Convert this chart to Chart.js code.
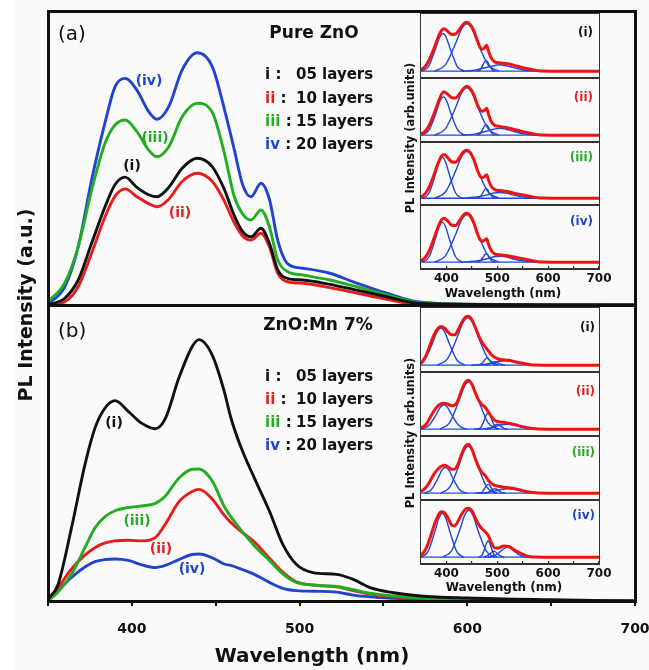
<!DOCTYPE html>
<html><head><meta charset="utf-8">
<script src="https://cdn.jsdelivr.net/npm/chart.js@4.4.1/dist/chart.umd.min.js"></script>
<style>
html,body{margin:0;padding:0;}
body{width:649px;height:670px;background:#fafafa;position:relative;overflow:hidden;font-family:"DejaVu Sans",sans-serif;}
canvas{position:absolute;}
.t{position:absolute;white-space:pre;line-height:1;}
.box{position:absolute;box-sizing:border-box;}
</style></head><body>
<script>
// ---------- main panel (a): Pure ZnO ----------
const wavelengthA = [350,360,368,376,384,390,396,403,410,415,422,430,439,448,455,461,466,471,477,482,487,493,502,518,532,552,570,600,650,700];
const a05 = [0,2.3,8.5,21,33.4,41,43.5,40,37.5,36.8,40,46.5,49.9,47,39.5,30.5,25,23.2,26.1,21,11.9,9,8.5,7,5.3,2.8,0.6,0.2,0.05,0];
const a10 = [0,1.1,6.2,17.6,30,37,39.5,36.8,34.5,33.4,36,42,44.8,42,35.5,28,23.5,22.1,24.4,19.8,10.8,7.9,7.4,5.9,4.3,1.9,0.3,0.1,0,0];
const a15 = [1.1,7.5,19.8,39,55,61.2,62.9,59,52.7,50.4,53.8,64,68.6,65.5,52,37,31,28.9,32.3,26.6,15.3,11.3,10.2,8.5,6.5,3.4,0.9,0.3,0.1,0];
const a20 = [0.3,6.2,19.8,42.5,62,74.3,77.1,73.1,65.8,63.2,67.5,80,85.8,81,67,53,41,36.8,41.4,36,22,14,12.5,10.8,7.9,4,1.1,0.3,0.1,0];

// ---------- main panel (b): ZnO:Mn 7% ----------
const wavelengthB = [350,356,364,372,378,384,390,398,406,414,420,428,436,440,448,455,459,465,473,482,490,498,508,522,532,542,556,572,600,650,700];
const b05 = [0.5,5.6,24.7,46,58.4,65.2,67.7,64,60,58.2,61.7,75.3,86,88.3,83,71,62,52,41.6,30.4,19.1,12.4,9.6,9.0,7.3,4.5,2.8,1.7,1,0.4,0];
const b10 = [0.3,4.5,10.8,15.5,18,19.6,20.3,20.5,20.3,21.4,26,33.5,37,37.7,34.4,29,26.5,23.5,20,14.5,9.8,6.5,5.4,4.8,3.5,2.3,1.4,1,0.5,0.2,0];
const b15 = [0,3,9,18,24.7,28.5,30.5,31.6,32.1,33,35.5,41.5,44.5,44.6,40.5,32,28.5,24,18.7,13.7,9.2,6.3,5.4,4.9,3.8,2.6,1.7,1,0.5,0.2,0];
const b20 = [0.3,3.5,8,11.5,13.3,14,14.2,13.7,12.2,11.3,12,14,15.7,15.9,14.6,12.5,12,10.8,9,6.3,4.3,3.5,3.3,3.0,2.0,1.4,0.9,0.5,0.3,0.1,0];

// ---------- x-axis tick values ----------
const mainTickStep = 50;
const labelledTicks = [400,500,600,700];

// ---------- inset (a) normalised spectra ----------
const wlInsetA = [350,360,368,376,384,390,395,402,410,418,426,433,440,447,454,461,466,471,475,479,483,488,495,505,520,540,560,580,620,700];
const aI_red   = [0.02,0.12,0.27,0.48,0.7,0.83,0.87,0.82,0.75,0.76,0.86,0.96,1.0,0.95,0.82,0.62,0.49,0.45,0.48,0.53,0.4,0.27,0.19,0.17,0.15,0.1,0.05,0.01,0,0];
const aII_red  = [0.02,0.1,0.24,0.45,0.68,0.83,0.89,0.84,0.77,0.76,0.85,0.95,1.0,0.95,0.82,0.62,0.52,0.49,0.51,0.55,0.42,0.28,0.2,0.18,0.15,0.1,0.05,0.01,0,0];
const aIII_red = [0.02,0.12,0.28,0.5,0.74,0.87,0.91,0.85,0.76,0.75,0.85,0.96,1.0,0.95,0.8,0.58,0.46,0.43,0.45,0.49,0.37,0.25,0.18,0.16,0.14,0.09,0.05,0.01,0,0];
const aIV_red  = [0.02,0.12,0.28,0.5,0.73,0.86,0.9,0.85,0.76,0.75,0.85,0.96,1.0,0.95,0.8,0.58,0.46,0.43,0.45,0.48,0.36,0.24,0.17,0.15,0.13,0.09,0.05,0.01,0,0];
// fitted components (wavelength, intensity)
const aI_c1 = [[351,0],[365,.10],[379,.47],[386,.68],[393,.77],[400,.68],[407,.47],[421,.10],[435,0]];
const aI_c2 = [[377,0],[398,.13],[419,.59],[429.5,.86],[440,.97],[450.5,.86],[461,.59],[482,.13],[503,0]];
const aI_c3 = [[460,0],[466,.03],[472,.13],[475,.19],[478,.22],[481,.19],[484,.13],[490,.03],[496,0]];
const aI_c4 = [[430,0],[455,.02],[480,.08],[492.5,.11],[505,.13],[517.5,.11],[530,.08],[555,.02],[580,0]];
const aII_c1 = [[352,0],[366,.11],[380,.47],[387,.69],[394,.78],[401,.69],[408,.47],[422,.11],[436,0]];
const aII_c2 = [[377,0],[398,.13],[419,.59],[429.5,.86],[440,.97],[450.5,.86],[461,.59],[482,.13],[503,0]];
const aII_c3 = [[460,0],[466,.03],[472,.13],[475,.19],[478,.22],[481,.19],[484,.13],[490,.03],[496,0]];
const aII_c4 = [[430,0],[455,.02],[480,.085],[492.5,.12],[505,.14],[517.5,.12],[530,.085],[555,.02],[580,0]];
const aIII_c1 = [[353,0],[366,.11],[379,.52],[385.5,.75],[392,.85],[398.5,.75],[405,.52],[418,.11],[431,0]];
const aIII_c2 = [[377,0],[398,.13],[419,.59],[429.5,.86],[440,.97],[450.5,.86],[461,.59],[482,.13],[503,0]];
const aIII_c3 = [[460,0],[466,.03],[472,.12],[475,.18],[478,.2],[481,.18],[484,.12],[490,.03],[496,0]];
const aIII_c4 = [[430,0],[455,.02],[480,.07],[492.5,.11],[505,.12],[517.5,.11],[530,.07],[555,.02],[580,0]];
const aIV_c1 = [[353,0],[366,.11],[379,.5],[385.5,.72],[392,.82],[398.5,.72],[405,.5],[418,.11],[431,0]];
const aIV_c2 = [[377,0],[398,.13],[419,.59],[429.5,.86],[440,.97],[450.5,.86],[461,.59],[482,.13],[503,0]];
const aIV_c3 = [[460,0],[466,.02],[472,.1],[475,.15],[478,.17],[481,.15],[484,.1],[490,.02],[496,0]];
const aIV_c4 = [[430,0],[455,.02],[480,.07],[492.5,.11],[505,.12],[517.5,.11],[530,.07],[555,.02],[580,0]];

// ---------- inset (b) normalised spectra ----------
const wlInsetB = [350,360,368,376,384,390,396,403,410,416,423,430,437,443,450,457,464,470,476,482,488,495,503,512,522,535,550,565,600,700];
const bI_red   = [0.03,0.2,0.42,0.63,0.76,0.79,0.76,0.68,0.62,0.62,0.72,0.87,0.98,1.0,0.93,0.77,0.59,0.47,0.38,0.3,0.22,0.16,0.12,0.11,0.1,0.07,0.04,0.01,0,0];
const bII_red  = [0.02,0.1,0.24,0.38,0.48,0.52,0.53,0.51,0.48,0.49,0.6,0.8,0.96,1.0,0.92,0.74,0.58,0.5,0.45,0.36,0.26,0.18,0.15,0.14,0.12,0.09,0.05,0.02,0,0];
const bIII_red = [0.03,0.12,0.25,0.4,0.5,0.55,0.57,0.54,0.49,0.49,0.6,0.8,0.96,1.0,0.9,0.7,0.52,0.42,0.36,0.27,0.2,0.16,0.14,0.12,0.11,0.09,0.05,0.02,0,0];
const bIV_red  = [0.03,0.18,0.4,0.66,0.86,0.93,0.91,0.8,0.66,0.64,0.74,0.88,0.98,1.0,0.95,0.8,0.66,0.58,0.52,0.45,0.3,0.19,0.19,0.23,0.22,0.14,0.06,0.01,0,0];
const bI_c1 = [[341,0],[357,.1],[373,.46],[381,.67],[389,.76],[397,.67],[405,.46],[421,.1],[437,0]];
const bI_c2 = [[382,0],[402,.13],[422,.59],[432,.86],[442,.97],[452,.86],[462,.59],[482,.13],[502,0]];
const bI_c3 = [[462,0],[468,.02],[474,.09],[477,.13],[480,.15],[483,.13],[486,.09],[492,.02],[498,0]];
const bI_c4 = [[474,0],[481,.01],[488,.04],[491.5,.06],[495,.07],[498.5,.06],[502,.04],[509,.01],[516,0]];
const bI_c5 = [[449,0],[471,.01],[493,.055],[504,.08],[515,.09],[526,.08],[537,.055],[559,.01],[581,0]];
const bII_c1 = [[350,0],[365,.07],[380,.3],[387.5,.44],[395,.5],[402.5,.44],[410,.3],[425,.07],[440,0]];
const bII_c2 = [[387,0],[406,.13],[425,.59],[434.5,.86],[444,.97],[453.5,.86],[463,.59],[482,.13],[501,0]];
const bII_c3 = [[461,0],[468,.04],[475,.2],[478.5,.29],[482,.33],[485.5,.29],[489,.2],[496,.04],[503,0]];
const bII_c4 = [[479,0],[486,.01],[493,.06],[496.5,.09],[500,.1],[503.5,.09],[507,.06],[514,.01],[521,0]];
const bII_c5 = [[454,0],[476,.01],[498,.06],[509,.09],[520,.1],[531,.09],[542,.06],[564,.01],[586,0]];
const bIII_c1 = [[356,0],[370,.07],[384,.32],[391,.47],[398,.53],[405,.47],[412,.32],[426,.07],[440,0]];
const bIII_c2 = [[389,0],[407,.13],[425,.58],[434,.85],[443,.96],[452,.85],[461,.58],[479,.13],[497,0]];
const bIII_c3 = [[464,0],[470,.02],[476,.11],[479,.16],[482,.18],[485,.16],[488,.11],[494,.02],[500,0]];
const bIII_c4 = [[474,0],[481,.01],[488,.055],[491.5,.08],[495,.09],[498.5,.08],[502,.055],[509,.01],[516,0]];
const bIII_c5 = [[456,0],[478,.01],[500,.055],[511,.08],[522,.09],[533,.08],[544,.055],[566,.01],[588,0]];
const bIV_c1 = [[350,0],[364,.12],[378,.55],[385,.79],[392,.9],[399,.79],[406,.55],[420,.12],[434,0]];
const bIV_c2 = [[393,0],[410,.13],[427,.58],[435.5,.85],[444,.96],[452.5,.85],[461,.58],[478,.13],[495,0]];
const bIV_c3 = [[464,0],[470,.04],[476,.2],[479,.29],[482,.33],[485,.29],[488,.2],[494,.04],[500,0]];
const bIV_c4 = [[472,0],[479,.02],[486,.07],[489.5,.11],[493,.12],[496.5,.11],[500,.07],[507,.02],[514,0]];
const bIV_c5 = [[481,0],[494,.03],[507,.12],[513.5,.18],[520,.2],[526.5,.18],[533,.12],[546,.03],[559,0]];
const insetBaseline = [[350,0],[700,0]];

// ---------- labels ----------
const seriesLabels = ['i','ii','iii','iv'];
const layerLabels = ['05 layers','10 layers','15 layers','20 layers'];

// ================= rendering =================
const FONT = '"DejaVu Sans", sans-serif';
const COL = {black:'#111111', red:'#e81c1c', green:'#22ad22', blue:'#2244cc', comp:'#2046d6', ired:'#ee1414'};
const serColors = [COL.black, COL.red, COL.green, COL.blue];

function addCanvas(l, t, w, h){
  const c = document.createElement('canvas');
  c.width = w; c.height = h;
  c.style.left = l+'px'; c.style.top = t+'px';
  c.style.width = w+'px'; c.style.height = h+'px';
  document.body.appendChild(c);
  return c;
}
function addBox(l, t, w, h, css){
  const d = document.createElement('div');
  d.className = 'box';
  d.style.cssText += `left:${l}px;top:${t}px;width:${w}px;height:${h}px;${css}`;
  document.body.appendChild(d);
}
function addText(html, x, y, o){
  const d = document.createElement('div');
  d.className = 't';
  d.innerHTML = html;
  const size = o.size || 14;
  d.style.fontSize = size+'px';
  d.style.fontWeight = o.bold === false ? 'normal' : 'bold';
  d.style.color = o.color || COL.black;
  d.style.fontFamily = FONT;
  let tr = '';
  if (o.align === 'left') { d.style.left = x+'px'; tr = 'translate(0,-50%)'; }
  else if (o.align === 'right') { d.style.right = (649-x)+'px'; tr = 'translate(0,-50%)'; }
  else { d.style.left = x+'px'; tr = 'translate(-50%,-50%)'; }
  if (o.rotate) tr += ` rotate(${o.rotate}deg)`;
  d.style.top = y+'px';
  d.style.transform = tr;
  document.body.appendChild(d);
}
function lineDS(wl, vals, color, width){
  return {data: wl.map((x,i)=>({x, y: vals[i]})), borderColor: color, borderWidth: width,
          pointRadius: 0, fill: false, cubicInterpolationMode: 'monotone'};
}
function pairDS(pairs, color, width){
  return {data: pairs.map(p=>({x:p[0], y:p[1]})), borderColor: color, borderWidth: width,
          pointRadius: 0, fill: false, cubicInterpolationMode: 'monotone'};
}
function xAxis(show, opt){
  if (!show) return {type:'linear', min:350, max:700, display:false};
  return {type:'linear', min:350, max:700, position:'bottom',
    afterFit: s => { s.height = opt.h; },
    ticks:{stepSize: mainTickStep, autoSkip:false, maxRotation:0, padding: opt.pad,
      callback: v => labelledTicks.includes(v) ? String(v) : '',
      font:{family:FONT, size:opt.size, weight:'bold'}, color: COL.black},
    grid:{display:true, drawOnChartArea:false, drawTicks:true, tickLength: opt.tl, color: opt.gc, lineWidth: opt.lw},
    border:{display:true, color: opt.gc, width: opt.lw}
  };
}
function makeChart(canvas, datasets, ymin, ymax, xopt, pad){
  return new Chart(canvas, {
    type:'line',
    data:{datasets},
    options:{
      responsive:false, animation:false, events:[],
      layout:{padding: pad || 0},
      plugins:{legend:{display:false}, tooltip:{enabled:false}},
      scales:{
        x: xopt ? xAxis(true, xopt) : xAxis(false),
        y: {type:'linear', min:ymin, max:ymax, display:false}
      }
    }
  });
}

// white strip at the far left
addBox(0,0,13,670,'background:#ffffff;');

// main panel (a)
makeChart(addCanvas(48,11,587,294), [
  lineDS(wavelengthA, a05, COL.black, 2.9),
  lineDS(wavelengthA, a10, COL.red, 2.9),
  lineDS(wavelengthA, a15, COL.green, 2.9),
  lineDS(wavelengthA, a20, COL.blue, 2.9)
], 0, 100);

// main panel (b) with x axis (chart area: x 48..635, y 305..601)
makeChart(addCanvas(28,305,641,365), [
  lineDS(wavelengthB, b05, COL.black, 2.9),
  lineDS(wavelengthB, b15, COL.green, 2.9),
  lineDS(wavelengthB, b10, COL.red, 2.9),
  lineDS(wavelengthB, b20, COL.blue, 2.9)
], 0, 100, {h:69, pad:15, size:14, tl:5, gc:'#111', lw:2}, {left:20, right:34, top:0, bottom:0});

// main frames
addBox(46.5,9.5,590,593,'border:3px solid #111;');
addBox(46.5,303.5,590,3,'background:#111;');

// insets
const insetA = [
  [aI_red,  [aI_c1,aI_c2,aI_c3,aI_c4]],
  [aII_red, [aII_c1,aII_c2,aII_c3,aII_c4]],
  [aIII_red,[aIII_c1,aIII_c2,aIII_c3,aIII_c4]],
  [aIV_red, [aIV_c1,aIV_c2,aIV_c3,aIV_c4]]
];
const insetB = [
  [bI_red,  [bI_c1,bI_c2,bI_c3,bI_c4,bI_c5]],
  [bII_red, [bII_c1,bII_c2,bII_c3,bII_c4,bII_c5]],
  [bIII_red,[bIII_c1,bIII_c2,bIII_c3,bIII_c4,bIII_c5]],
  [bIV_red, [bIV_c1,bIV_c2,bIV_c3,bIV_c4,bIV_c5]]
];
function drawInset(wl, sets, tops, bottom){
  const L = 421, W = 178;
  sets.forEach((s, k) => {
    const t = tops[k], b = (k < 3 ? tops[k+1] : bottom), h = b - t;
    const ds = [lineDS(wl, s[0], COL.ired, 3)];
    s[1].forEach(c => ds.push(pairDS(c, COL.comp, 1.4)));
    ds.push(pairDS(insetBaseline, COL.comp, 1.4));
    if (k < 3) {
      makeChart(addCanvas(L, t, W, h), ds, -0.14, 1.17);
    } else {
      makeChart(addCanvas(L-10, t, W+30, h+24), ds, -0.14, 1.17,
        {h:24, pad:6, size:12, tl:-3, gc:'#333', lw:1.2}, {left:10, right:20, top:0, bottom:0});
    }
  });
  addBox(L-1, tops[0]-1, W+2, bottom-tops[0]+2, 'border:1.5px solid #333;');
  for (let k = 1; k < 4; k++) addBox(L-1, tops[k]-0.75, W+2, 1.5, 'background:#333;');
}
drawInset(wlInsetA, insetA, [14,78,142,205], 269);
drawInset(wlInsetB, insetB, [308,372,436,500], 564);

// axis titles
addText('PL Intensity (a.u.)', 25, 305, {size:19, rotate:-90});
addText('Wavelength (nm)', 312, 655, {size:20});
addText('PL Intensity (arb.units)', 411, 138, {size:11.5, rotate:-90});
addText('Wavelength (nm)', 503, 293, {size:12});
addText('PL Intensity (arb.units)', 411, 433, {size:11.5, rotate:-90});
addText('Wavelength (nm)', 504, 587, {size:12});

// panel titles
addText('(a)', 58, 33, {size:20, bold:false, align:'left'});
addText('Pure ZnO', 314, 32, {size:17});
addText('(b)', 58, 330, {size:20, bold:false, align:'left'});
addText('ZnO:Mn 7%', 318, 324, {size:17});

// legends
[[74,97.5,121,144],[376,399,422,445]].forEach(ys => {
  ys.forEach((y, k) => {
    addText(`<span style="color:${serColors[k]}">${seriesLabels[k]}</span> :`, 265, y, {size:15, align:'left'});
    addText(layerLabels[k], 296, y, {size:15, align:'left'});
  });
});

// curve labels
addText('(iv)', 149, 80, {size:14, color:COL.blue});
addText('(iii)', 155, 137, {size:14, color:COL.green});
addText('(i)', 132, 165, {size:14, color:COL.black});
addText('(ii)', 180, 212, {size:14, color:COL.red});
addText('(i)', 114, 422, {size:14, color:COL.black});
addText('(iii)', 137, 520, {size:14, color:COL.green});
addText('(ii)', 161, 548, {size:14, color:COL.red});
addText('(iv)', 192, 568, {size:14, color:COL.blue});

// inset sub-panel labels
[32,97,157,221].forEach((y,k) => addText('('+seriesLabels[k]+')', 593, y, {size:12, color:serColors[k], align:'right'}));
[327,391,452,515].forEach((y,k) => addText('('+seriesLabels[k]+')', 595, y, {size:12, color:serColors[k], align:'right'}));
</script>
</body></html>
